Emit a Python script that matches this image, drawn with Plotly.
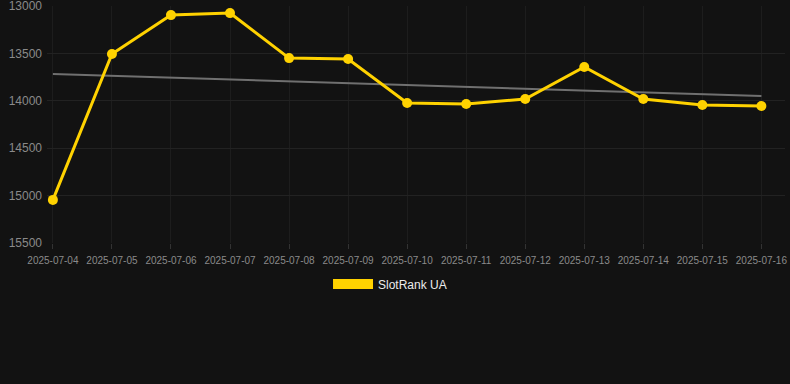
import plotly.graph_objects as go

dates = ["2025-07-04", "2025-07-05", "2025-07-06", "2025-07-07", "2025-07-08",
         "2025-07-09", "2025-07-10", "2025-07-11", "2025-07-12", "2025-07-13",
         "2025-07-14", "2025-07-15", "2025-07-16"]
rank = [15046, 13506, 13095, 13074, 13549, 13559, 14023, 14034, 13981, 13643,
        13981, 14044, 14055]
trend_x = ["2025-07-04", "2025-07-16"]
trend_y = [13717, 13949]
y_ticks = [13000, 13500, 14000, 14500, 15000, 15500]
series_name = "SlotRank UA"

idx = list(range(len(dates)))
trend_idx = [dates.index(d) for d in trend_x]

fig = go.Figure()
fig.add_trace(go.Scatter(x=trend_idx, y=trend_y, mode="lines",
                         line=dict(color="#707070", width=2),
                         showlegend=False, hoverinfo="skip"))
fig.add_trace(go.Scatter(x=idx, y=rank, mode="lines+markers",
                         line=dict(color="#FFD200", width=3),
                         marker=dict(color="#FFD200", size=10),
                         showlegend=False, name=series_name))
fig.add_trace(go.Scatter(x=[None], y=[None], mode="lines",
                         line=dict(color="#FFD200", width=12),
                         name=series_name, showlegend=True))

fig.update_layout(
    width=790, height=384,
    paper_bgcolor="#121212", plot_bgcolor="#121212",
    margin=dict(l=47, r=5, t=6, b=141, autoexpand=False),
    font=dict(family="Liberation Sans, Arial, sans-serif", color="#8a8a8a"),
    showlegend=True,
    legend=dict(orientation="h", x=0.4648, xanchor="center",
                y=-0.173, yanchor="middle",
                font=dict(color="#ececec", size=12), bgcolor="rgba(0,0,0,0)",
                itemwidth=40),
    xaxis=dict(range=[-0.1, 12.4], tickmode="array", tickvals=idx, ticktext=dates,
               tickfont=dict(size=10, color="#8a8a8a"), showgrid=True,
               gridcolor="#1d1d1d", zeroline=False, showline=False,
               ticks="outside", ticklen=5, tickcolor="#333333", tickangle=0,
               ticklabelstandoff=3),
    yaxis=dict(range=[15501, 12999], tickmode="array", tickvals=y_ticks,
               ticktext=[str(v) for v in y_ticks], ticklabeloverflow="allow",
               tickfont=dict(size=12, color="#8a8a8a"), showgrid=True,
               gridcolor="#222222", zeroline=False, showline=False,
               ticks="", ticklabelstandoff=4),
)

fig.write_html("out.html", config={"displayModeBar": False},
               post_script="document.body.style.margin='0';document.body.style.background='#121212';")
